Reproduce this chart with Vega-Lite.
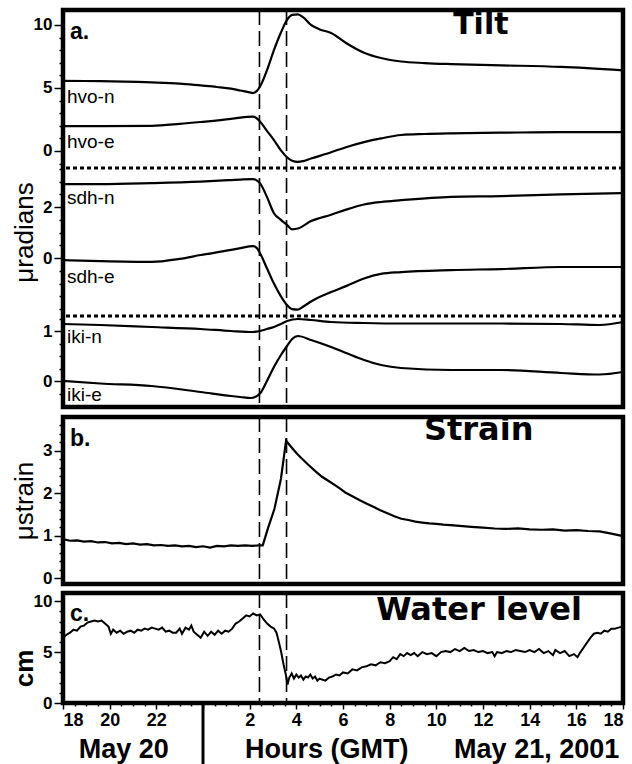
{
  "$schema": "https://vega.github.io/schema/vega-lite/v6.json",
  "padding": {"left": 8, "top": 6, "right": 6, "bottom": 0},
  "spacing": 0,
  "datasets": {
    "tilt": [
      {"s":"hvo-n","g":"hvo","h":18,"v":5.56},{"s":"hvo-n","g":"hvo","h":19.6,"v":5.55},{"s":"hvo-n","g":"hvo","h":21.8,"v":5.45},{"s":"hvo-n","g":"hvo","h":23.0,"v":5.35},{"s":"hvo-n","g":"hvo","h":23.9,"v":5.2},{"s":"hvo-n","g":"hvo","h":24.6,"v":5.08},{"s":"hvo-n","g":"hvo","h":25.2,"v":4.95},{"s":"hvo-n","g":"hvo","h":25.6,"v":4.8},{"s":"hvo-n","g":"hvo","h":26.0,"v":4.65},{"s":"hvo-n","g":"hvo","h":26.14,"v":4.6},{"s":"hvo-n","g":"hvo","h":26.3,"v":4.75},{"s":"hvo-n","g":"hvo","h":26.44,"v":5.1},{"s":"hvo-n","g":"hvo","h":26.74,"v":6.4},{"s":"hvo-n","g":"hvo","h":27.04,"v":8.0},{"s":"hvo-n","g":"hvo","h":27.34,"v":9.4},{"s":"hvo-n","g":"hvo","h":27.6,"v":10.4},{"s":"hvo-n","g":"hvo","h":27.82,"v":10.8},{"s":"hvo-n","g":"hvo","h":28.07,"v":10.85},{"s":"hvo-n","g":"hvo","h":28.3,"v":10.6},{"s":"hvo-n","g":"hvo","h":28.63,"v":10.0},{"s":"hvo-n","g":"hvo","h":29.0,"v":9.65},{"s":"hvo-n","g":"hvo","h":29.49,"v":9.37},{"s":"hvo-n","g":"hvo","h":30.13,"v":8.57},{"s":"hvo-n","g":"hvo","h":30.9,"v":7.8},{"s":"hvo-n","g":"hvo","h":31.63,"v":7.38},{"s":"hvo-n","g":"hvo","h":32.49,"v":7.1},{"s":"hvo-n","g":"hvo","h":33.5,"v":6.98},{"s":"hvo-n","g":"hvo","h":34.63,"v":6.9},{"s":"hvo-n","g":"hvo","h":36.77,"v":6.8},{"s":"hvo-n","g":"hvo","h":39.35,"v":6.67},{"s":"hvo-n","g":"hvo","h":42,"v":6.4},
      {"s":"hvo-e","g":"hvo","h":18,"v":1.98},{"s":"hvo-e","g":"hvo","h":19.6,"v":1.97},{"s":"hvo-e","g":"hvo","h":21.8,"v":2.0},{"s":"hvo-e","g":"hvo","h":23.0,"v":2.15},{"s":"hvo-e","g":"hvo","h":23.9,"v":2.3},{"s":"hvo-e","g":"hvo","h":25.2,"v":2.55},{"s":"hvo-e","g":"hvo","h":25.6,"v":2.65},{"s":"hvo-e","g":"hvo","h":26.14,"v":2.72},{"s":"hvo-e","g":"hvo","h":26.3,"v":2.6},{"s":"hvo-e","g":"hvo","h":26.44,"v":2.35},{"s":"hvo-e","g":"hvo","h":26.74,"v":1.6},{"s":"hvo-e","g":"hvo","h":27.04,"v":0.87},{"s":"hvo-e","g":"hvo","h":27.34,"v":0.05},{"s":"hvo-e","g":"hvo","h":27.6,"v":-0.5},{"s":"hvo-e","g":"hvo","h":27.82,"v":-0.78},{"s":"hvo-e","g":"hvo","h":28.07,"v":-0.87},{"s":"hvo-e","g":"hvo","h":28.3,"v":-0.8},{"s":"hvo-e","g":"hvo","h":28.63,"v":-0.6},{"s":"hvo-e","g":"hvo","h":29.49,"v":-0.1},{"s":"hvo-e","g":"hvo","h":30.13,"v":0.3},{"s":"hvo-e","g":"hvo","h":30.9,"v":0.7},{"s":"hvo-e","g":"hvo","h":31.63,"v":1.0},{"s":"hvo-e","g":"hvo","h":32.49,"v":1.27},{"s":"hvo-e","g":"hvo","h":33.5,"v":1.35},{"s":"hvo-e","g":"hvo","h":34.63,"v":1.4},{"s":"hvo-e","g":"hvo","h":36.77,"v":1.45},{"s":"hvo-e","g":"hvo","h":39.35,"v":1.5},{"s":"hvo-e","g":"hvo","h":42,"v":1.5},
      {"s":"sdh-n","g":"sdh","h":18,"v":2.9},{"s":"sdh-n","g":"sdh","h":19.6,"v":2.9},{"s":"sdh-n","g":"sdh","h":21.8,"v":2.94},{"s":"sdh-n","g":"sdh","h":23.9,"v":3.0},{"s":"sdh-n","g":"sdh","h":25.2,"v":3.06},{"s":"sdh-n","g":"sdh","h":25.6,"v":3.08},{"s":"sdh-n","g":"sdh","h":26.14,"v":3.1},{"s":"sdh-n","g":"sdh","h":26.3,"v":3.05},{"s":"sdh-n","g":"sdh","h":26.44,"v":2.94},{"s":"sdh-n","g":"sdh","h":26.74,"v":2.4},{"s":"sdh-n","g":"sdh","h":27.04,"v":1.76},{"s":"sdh-n","g":"sdh","h":27.34,"v":1.5},{"s":"sdh-n","g":"sdh","h":27.6,"v":1.3},{"s":"sdh-n","g":"sdh","h":27.82,"v":1.13},{"s":"sdh-n","g":"sdh","h":28.07,"v":1.16},{"s":"sdh-n","g":"sdh","h":28.63,"v":1.45},{"s":"sdh-n","g":"sdh","h":29.49,"v":1.7},{"s":"sdh-n","g":"sdh","h":30.13,"v":1.9},{"s":"sdh-n","g":"sdh","h":30.9,"v":2.1},{"s":"sdh-n","g":"sdh","h":31.63,"v":2.2},{"s":"sdh-n","g":"sdh","h":32.49,"v":2.27},{"s":"sdh-n","g":"sdh","h":34.63,"v":2.4},{"s":"sdh-n","g":"sdh","h":36.77,"v":2.43},{"s":"sdh-n","g":"sdh","h":39.35,"v":2.5},{"s":"sdh-n","g":"sdh","h":42,"v":2.55},
      {"s":"sdh-e","g":"sdh","h":18,"v":-0.08},{"s":"sdh-e","g":"sdh","h":19.6,"v":-0.12},{"s":"sdh-e","g":"sdh","h":21.8,"v":-0.15},{"s":"sdh-e","g":"sdh","h":23.0,"v":-0.03},{"s":"sdh-e","g":"sdh","h":23.9,"v":0.12},{"s":"sdh-e","g":"sdh","h":25.2,"v":0.32},{"s":"sdh-e","g":"sdh","h":25.6,"v":0.39},{"s":"sdh-e","g":"sdh","h":26.14,"v":0.47},{"s":"sdh-e","g":"sdh","h":26.3,"v":0.4},{"s":"sdh-e","g":"sdh","h":26.44,"v":0.2},{"s":"sdh-e","g":"sdh","h":26.74,"v":-0.4},{"s":"sdh-e","g":"sdh","h":27.04,"v":-1.0},{"s":"sdh-e","g":"sdh","h":27.34,"v":-1.5},{"s":"sdh-e","g":"sdh","h":27.6,"v":-1.84},{"s":"sdh-e","g":"sdh","h":27.82,"v":-2.0},{"s":"sdh-e","g":"sdh","h":28.07,"v":-2.02},{"s":"sdh-e","g":"sdh","h":28.3,"v":-1.9},{"s":"sdh-e","g":"sdh","h":28.63,"v":-1.7},{"s":"sdh-e","g":"sdh","h":29.49,"v":-1.33},{"s":"sdh-e","g":"sdh","h":30.13,"v":-1.1},{"s":"sdh-e","g":"sdh","h":30.9,"v":-0.8},{"s":"sdh-e","g":"sdh","h":31.63,"v":-0.62},{"s":"sdh-e","g":"sdh","h":32.49,"v":-0.55},{"s":"sdh-e","g":"sdh","h":34.63,"v":-0.47},{"s":"sdh-e","g":"sdh","h":36.77,"v":-0.43},{"s":"sdh-e","g":"sdh","h":39.35,"v":-0.35},{"s":"sdh-e","g":"sdh","h":42,"v":-0.35},
      {"s":"iki-n","g":"iki","h":18,"v":1.14},{"s":"iki-n","g":"iki","h":19.6,"v":1.12},{"s":"iki-n","g":"iki","h":21.8,"v":1.08},{"s":"iki-n","g":"iki","h":23.9,"v":1.04},{"s":"iki-n","g":"iki","h":25.2,"v":1.0},{"s":"iki-n","g":"iki","h":26.14,"v":0.98},{"s":"iki-n","g":"iki","h":26.44,"v":1.0},{"s":"iki-n","g":"iki","h":26.74,"v":1.04},{"s":"iki-n","g":"iki","h":27.04,"v":1.08},{"s":"iki-n","g":"iki","h":27.34,"v":1.14},{"s":"iki-n","g":"iki","h":27.6,"v":1.2},{"s":"iki-n","g":"iki","h":28.07,"v":1.24},{"s":"iki-n","g":"iki","h":28.63,"v":1.22},{"s":"iki-n","g":"iki","h":29.49,"v":1.18},{"s":"iki-n","g":"iki","h":30.9,"v":1.16},{"s":"iki-n","g":"iki","h":32.49,"v":1.15},{"s":"iki-n","g":"iki","h":34.63,"v":1.15},{"s":"iki-n","g":"iki","h":36.77,"v":1.15},{"s":"iki-n","g":"iki","h":39.35,"v":1.14},{"s":"iki-n","g":"iki","h":41.0,"v":1.12},{"s":"iki-n","g":"iki","h":42,"v":1.18},
      {"s":"iki-e","g":"iki","h":18,"v":0.0},{"s":"iki-e","g":"iki","h":19.6,"v":-0.05},{"s":"iki-e","g":"iki","h":21.8,"v":-0.1},{"s":"iki-e","g":"iki","h":23.9,"v":-0.22},{"s":"iki-e","g":"iki","h":25.2,"v":-0.3},{"s":"iki-e","g":"iki","h":25.6,"v":-0.32},{"s":"iki-e","g":"iki","h":26.06,"v":-0.34},{"s":"iki-e","g":"iki","h":26.44,"v":-0.25},{"s":"iki-e","g":"iki","h":26.74,"v":0.0},{"s":"iki-e","g":"iki","h":27.04,"v":0.28},{"s":"iki-e","g":"iki","h":27.34,"v":0.52},{"s":"iki-e","g":"iki","h":27.6,"v":0.7},{"s":"iki-e","g":"iki","h":27.82,"v":0.84},{"s":"iki-e","g":"iki","h":28.07,"v":0.9},{"s":"iki-e","g":"iki","h":28.63,"v":0.82},{"s":"iki-e","g":"iki","h":29.49,"v":0.68},{"s":"iki-e","g":"iki","h":30.13,"v":0.56},{"s":"iki-e","g":"iki","h":30.9,"v":0.42},{"s":"iki-e","g":"iki","h":31.63,"v":0.32},{"s":"iki-e","g":"iki","h":32.49,"v":0.26},{"s":"iki-e","g":"iki","h":34.63,"v":0.22},{"s":"iki-e","g":"iki","h":36.77,"v":0.22},{"s":"iki-e","g":"iki","h":39.35,"v":0.16},{"s":"iki-e","g":"iki","h":41.0,"v":0.13},{"s":"iki-e","g":"iki","h":42,"v":0.18}
    ],
    "tracelabels": [
      {"t":"hvo-n","g":"hvo","h":18.17,"v":4.29},
      {"t":"hvo-e","g":"hvo","h":18.17,"v":0.71},
      {"t":"sdh-n","g":"sdh","h":18.17,"v":2.35},
      {"t":"sdh-e","g":"sdh","h":18.17,"v":-0.75},
      {"t":"iki-n","g":"iki","h":18.17,"v":0.88},
      {"t":"iki-e","g":"iki","h":18.17,"v":-0.28}
    ],
    "strain": [
      {"h":18.0,"v":0.92},{"h":18.3,"v":0.88},{"h":18.6,"v":0.89},{"h":18.9,"v":0.86},{"h":19.2,"v":0.87},{"h":19.5,"v":0.84},{"h":19.8,"v":0.85},{"h":20.1,"v":0.82},{"h":20.4,"v":0.83},{"h":20.7,"v":0.8},{"h":21.0,"v":0.82},{"h":21.3,"v":0.79},{"h":21.6,"v":0.8},{"h":21.9,"v":0.77},{"h":22.2,"v":0.78},{"h":22.5,"v":0.76},{"h":22.8,"v":0.77},{"h":23.1,"v":0.75},{"h":23.4,"v":0.76},{"h":23.7,"v":0.73},{"h":24.0,"v":0.75},{"h":24.3,"v":0.72},{"h":24.6,"v":0.76},{"h":24.9,"v":0.75},{"h":25.2,"v":0.77},{"h":25.5,"v":0.76},{"h":25.8,"v":0.77},{"h":26.1,"v":0.76},{"h":26.4,"v":0.77},{"h":26.56,"v":0.77},{"h":26.8,"v":1.2},{"h":27.06,"v":1.63},{"h":27.34,"v":2.34},{"h":27.56,"v":3.24},{"h":27.8,"v":3.08},{"h":28.0,"v":2.95},{"h":28.2,"v":2.84},{"h":28.5,"v":2.68},{"h":28.8,"v":2.53},{"h":29.1,"v":2.39},{"h":29.5,"v":2.25},{"h":29.8,"v":2.14},{"h":30.1,"v":2.02},{"h":30.4,"v":1.93},{"h":30.7,"v":1.84},{"h":31.0,"v":1.76},{"h":31.3,"v":1.68},{"h":31.6,"v":1.6},{"h":31.9,"v":1.53},{"h":32.2,"v":1.46},{"h":32.5,"v":1.4},{"h":32.8,"v":1.37},{"h":33.1,"v":1.33},{"h":33.4,"v":1.31},{"h":33.7,"v":1.29},{"h":34.0,"v":1.28},{"h":34.3,"v":1.26},{"h":34.6,"v":1.25},{"h":35.0,"v":1.23},{"h":35.5,"v":1.21},{"h":36.0,"v":1.19},{"h":36.5,"v":1.17},{"h":37.0,"v":1.16},{"h":37.5,"v":1.17},{"h":38.0,"v":1.15},{"h":38.5,"v":1.14},{"h":39.0,"v":1.15},{"h":39.5,"v":1.12},{"h":40.0,"v":1.13},{"h":40.5,"v":1.11},{"h":41.0,"v":1.1},{"h":41.5,"v":1.05},{"h":42.0,"v":0.99}
    ],
    "water": [
      {"h":18.0,"v":6.4},{"h":18.15,"v":6.7},{"h":18.3,"v":6.9},{"h":18.45,"v":7.2},{"h":18.6,"v":7.1},{"h":18.75,"v":7.5},{"h":18.9,"v":7.6},{"h":19.05,"v":7.9},{"h":19.2,"v":8.0},{"h":19.35,"v":8.1},{"h":19.5,"v":8.0},{"h":19.65,"v":8.1},{"h":19.8,"v":7.8},{"h":19.95,"v":7.5},{"h":20.05,"v":6.8},{"h":20.15,"v":7.2},{"h":20.3,"v":6.9},{"h":20.45,"v":7.1},{"h":20.6,"v":6.8},{"h":20.75,"v":7.0},{"h":20.9,"v":7.1},{"h":21.05,"v":6.9},{"h":21.2,"v":7.2},{"h":21.35,"v":7.1},{"h":21.5,"v":7.3},{"h":21.65,"v":7.2},{"h":21.8,"v":7.4},{"h":21.95,"v":7.3},{"h":22.1,"v":7.2},{"h":22.25,"v":7.4},{"h":22.4,"v":7.0},{"h":22.55,"v":7.1},{"h":22.7,"v":6.9},{"h":22.85,"v":6.9},{"h":23.0,"v":7.3},{"h":23.1,"v":6.8},{"h":23.25,"v":7.4},{"h":23.4,"v":7.2},{"h":23.5,"v":7.6},{"h":23.6,"v":7.0},{"h":23.75,"v":6.7},{"h":23.9,"v":6.4},{"h":24.05,"v":7.0},{"h":24.2,"v":6.6},{"h":24.35,"v":7.0},{"h":24.5,"v":6.7},{"h":24.65,"v":7.1},{"h":24.8,"v":6.8},{"h":24.95,"v":7.1},{"h":25.1,"v":7.0},{"h":25.25,"v":7.3},{"h":25.4,"v":7.8},{"h":25.55,"v":8.0},{"h":25.7,"v":8.3},{"h":25.85,"v":8.6},{"h":26.0,"v":8.5},{"h":26.15,"v":8.8},{"h":26.3,"v":8.6},{"h":26.45,"v":8.7},{"h":26.6,"v":8.2},{"h":26.75,"v":7.8},{"h":26.9,"v":7.5},{"h":27.05,"v":7.3},{"h":27.15,"v":6.9},{"h":27.25,"v":6.0},{"h":27.35,"v":5.0},{"h":27.45,"v":3.8},{"h":27.55,"v":2.8},{"h":27.62,"v":1.8},{"h":27.7,"v":2.5},{"h":27.8,"v":2.9},{"h":27.9,"v":2.4},{"h":28.0,"v":2.8},{"h":28.1,"v":2.5},{"h":28.2,"v":2.7},{"h":28.3,"v":2.3},{"h":28.4,"v":2.6},{"h":28.5,"v":2.5},{"h":28.6,"v":2.8},{"h":28.7,"v":2.4},{"h":28.8,"v":2.6},{"h":28.9,"v":2.2},{"h":29.0,"v":2.4},{"h":29.1,"v":2.3},{"h":29.25,"v":2.2},{"h":29.4,"v":2.5},{"h":29.55,"v":2.6},{"h":29.7,"v":2.8},{"h":29.85,"v":2.7},{"h":30.0,"v":3.0},{"h":30.2,"v":2.9},{"h":30.4,"v":3.3},{"h":30.6,"v":3.2},{"h":30.8,"v":3.5},{"h":31.0,"v":3.6},{"h":31.2,"v":3.8},{"h":31.4,"v":3.7},{"h":31.6,"v":4.0},{"h":31.8,"v":3.9},{"h":32.0,"v":4.1},{"h":32.15,"v":4.5},{"h":32.3,"v":4.3},{"h":32.45,"v":4.8},{"h":32.6,"v":4.6},{"h":32.75,"v":4.9},{"h":32.9,"v":4.7},{"h":33.05,"v":4.9},{"h":33.2,"v":4.6},{"h":33.4,"v":5.0},{"h":33.6,"v":4.8},{"h":33.8,"v":4.9},{"h":34.0,"v":4.6},{"h":34.2,"v":5.0},{"h":34.4,"v":5.1},{"h":34.6,"v":5.0},{"h":34.8,"v":5.3},{"h":35.0,"v":5.1},{"h":35.2,"v":5.4},{"h":35.4,"v":5.1},{"h":35.6,"v":5.2},{"h":35.8,"v":5.0},{"h":36.0,"v":5.1},{"h":36.2,"v":4.9},{"h":36.4,"v":5.0},{"h":36.5,"v":4.6},{"h":36.6,"v":5.0},{"h":36.8,"v":4.9},{"h":37.0,"v":5.1},{"h":37.2,"v":5.0},{"h":37.4,"v":5.2},{"h":37.6,"v":5.1},{"h":37.8,"v":5.0},{"h":38.0,"v":5.2},{"h":38.2,"v":5.0},{"h":38.4,"v":5.3},{"h":38.6,"v":4.9},{"h":38.8,"v":5.1},{"h":39.0,"v":4.7},{"h":39.1,"v":5.2},{"h":39.3,"v":4.9},{"h":39.5,"v":5.1},{"h":39.7,"v":4.6},{"h":39.9,"v":4.8},{"h":40.05,"v":4.5},{"h":40.15,"v":4.9},{"h":40.3,"v":5.4},{"h":40.45,"v":5.9},{"h":40.6,"v":6.4},{"h":40.75,"v":6.8},{"h":40.9,"v":6.9},{"h":41.05,"v":6.8},{"h":41.2,"v":7.1},{"h":41.35,"v":7.0},{"h":41.5,"v":7.3},{"h":41.65,"v":7.3},{"h":41.8,"v":7.4},{"h":42.0,"v":7.5}
    ],
    "events": [{"h": 26.42}, {"h": 27.58}]
  },
  "vconcat": [
    {
      "width": 560,
      "height": 397,
      "layer": [
        {
          "encoding": {
            "y": {"field": "v", "type": "quantitative", "scale": {"domain": [-20.32, 11.19], "nice": false, "zero": false},
              "axis": {"orient": "left", "title": null, "values": [-1,0,1,2,3,4,5,6,7,8,9,10],
                "labelExpr": "datum.value % 5 == 0 ? datum.label : ''",
                "labelFontSize": {"condition": {"test": "datum.value % 5 == 0", "value": 17}, "value": 0},
                "tickSize": {"condition": {"test": "datum.value % 5 == 0", "value": 9}, "value": 4}}}
          },
          "layer": [
            {"data": {"name": "tilt"}, "transform": [{"filter": "datum.g == 'hvo'"}],
             "mark": {"type": "line", "color": "black", "strokeWidth": 2.2, "interpolate": "monotone"},
             "encoding": {"x": {"field": "h", "type": "quantitative", "scale": {"domain": [18, 42], "nice": false, "zero": false}, "axis": null}, "detail": {"field": "s"}}},
            {"data": {"name": "tracelabels"}, "transform": [{"filter": "datum.g == 'hvo'"}],
             "mark": {"type": "text", "align": "left", "baseline": "middle", "fontSize": 19, "font": "Liberation Sans"},
             "encoding": {"x": {"field": "h", "type": "quantitative", "axis": null}, "text": {"field": "t"}}},
            {"data": {"values": [{"t": "a.", "h": 18.3, "v": 9.44}]},
             "mark": {"type": "text", "align": "left", "baseline": "middle", "fontSize": 23, "fontWeight": "bold", "font": "Liberation Sans"},
             "encoding": {"x": {"field": "h", "type": "quantitative", "axis": null}, "text": {"field": "t"}}},
            {"data": {"values": [{"t": "Tilt", "h": 34.72, "v": 10.0}]},
             "mark": {"type": "text", "align": "left", "baseline": "middle", "fontSize": 30, "fontWeight": "bold", "font": "DejaVu Sans"},
             "encoding": {"x": {"field": "h", "type": "quantitative", "axis": null}, "text": {"field": "t"}}},
            {"data": {"values": [{"v": -1.35}]},
             "mark": {"type": "rule", "color": "black", "strokeWidth": 3, "strokeDash": [4, 3]},
             "encoding": {}}
          ]
        },
        {
          "encoding": {
            "y": {"field": "v", "type": "quantitative", "scale": {"domain": [-5.84, 9.73], "nice": false, "zero": false},
              "axis": {"orient": "left", "title": "μradians", "titleX": -26, "titleY": 222, "values": [-2,-1.5,-1,-0.5,0,0.5,1,1.5,2,2.5,3,3.5],
                "labelExpr": "(datum.value == 0 || datum.value == 2) ? datum.label : ''",
                "labelFontSize": {"condition": {"test": "datum.value == 0 || datum.value == 2", "value": 17}, "value": 0},
                "tickSize": {"condition": {"test": "datum.value == 0 || datum.value == 2", "value": 9}, "value": 4}}}
          },
          "layer": [
            {"data": {"name": "tilt"}, "transform": [{"filter": "datum.g == 'sdh'"}],
             "mark": {"type": "line", "color": "black", "strokeWidth": 2.2, "interpolate": "monotone"},
             "encoding": {"x": {"field": "h", "type": "quantitative", "axis": null}, "detail": {"field": "s"}}},
            {"data": {"name": "tracelabels"}, "transform": [{"filter": "datum.g == 'sdh'"}],
             "mark": {"type": "text", "align": "left", "baseline": "middle", "fontSize": 19, "font": "Liberation Sans"},
             "encoding": {"x": {"field": "h", "type": "quantitative", "axis": null}, "text": {"field": "t"}}}
          ]
        },
        {
          "encoding": {
            "y": {"field": "v", "type": "quantitative", "scale": {"domain": [-0.52, 7.42], "nice": false, "zero": false},
              "axis": {"orient": "left", "title": null, "values": [-0.25,0,0.25,0.5,0.75,1,1.25],
                "labelExpr": "(datum.value == 0 || datum.value == 1) ? datum.label : ''",
                "labelFontSize": {"condition": {"test": "datum.value == 0 || datum.value == 1", "value": 17}, "value": 0},
                "tickSize": {"condition": {"test": "datum.value == 0 || datum.value == 1", "value": 9}, "value": 4}}}
          },
          "layer": [
            {"data": {"name": "tilt"}, "transform": [{"filter": "datum.g == 'iki'"}],
             "mark": {"type": "line", "color": "black", "strokeWidth": 2.2, "interpolate": "monotone"},
             "encoding": {"x": {"field": "h", "type": "quantitative", "axis": null}, "detail": {"field": "s"}}},
            {"data": {"name": "tracelabels"}, "transform": [{"filter": "datum.g == 'iki'"}],
             "mark": {"type": "text", "align": "left", "baseline": "middle", "fontSize": 19, "font": "Liberation Sans"},
             "encoding": {"x": {"field": "h", "type": "quantitative", "axis": null}, "text": {"field": "t"}}},
            {"data": {"values": [{"v": 1.3}]},
             "mark": {"type": "rule", "color": "black", "strokeWidth": 3, "strokeDash": [4, 3]},
             "encoding": {}}
          ]
        },
        {
          "data": {"name": "events"},
          "mark": {"type": "rule", "color": "black", "strokeWidth": 1.6, "strokeDash": [15, 6]},
          "encoding": {"x": {"field": "h", "type": "quantitative", "axis": null}}
        }
      ],
      "resolve": {"scale": {"y": "independent"}, "axis": {"y": "independent"}}
    },
    {
      "width": 560,
      "height": 167,
      "encoding": {"x": {"field": "h", "type": "quantitative", "scale": {"domain": [18, 42], "nice": false, "zero": false}, "axis": null}},
      "layer": [
        {
          "encoding": {
            "y": {"field": "v", "type": "quantitative", "scale": {"domain": [-0.14, 3.8], "nice": false, "zero": false},
              "axis": {"orient": "left", "title": "μstrain", "titleX": -26, "values": [0,0.2,0.4,0.6,0.8,1,1.2,1.4,1.6,1.8,2,2.2,2.4,2.6,2.8,3,3.2,3.4,3.6],
                "labelExpr": "(datum.value == 0 || datum.value == 1 || datum.value == 2 || datum.value == 3) ? ('' + datum.value) : ''",
                "labelFontSize": {"condition": {"test": "datum.value == 0 || datum.value == 1 || datum.value == 2 || datum.value == 3", "value": 17}, "value": 0},
                "tickSize": {"condition": {"test": "datum.value == 0 || datum.value == 1 || datum.value == 2 || datum.value == 3", "value": 9}, "value": 4}}}
          },
          "layer": [
            {"data": {"name": "strain"},
             "mark": {"type": "line", "color": "black", "strokeWidth": 2.2}},
            {"data": {"values": [{"t": "b.", "h": 18.3, "v": 3.29}]},
             "mark": {"type": "text", "align": "left", "baseline": "middle", "fontSize": 23, "fontWeight": "bold", "font": "Liberation Sans"},
             "encoding": {"text": {"field": "t"}}},
            {"data": {"values": [{"t": "Strain", "h": 33.47, "v": 3.5}]},
             "mark": {"type": "text", "align": "left", "baseline": "middle", "fontSize": 32, "fontWeight": "bold", "font": "DejaVu Sans"},
             "encoding": {"text": {"field": "t"}}}
          ]
        },
        {"data": {"name": "events"},
         "mark": {"type": "rule", "color": "black", "strokeWidth": 1.6, "strokeDash": [15, 6]}}
      ]
    },
    {
      "width": 560,
      "height": 110,
      "encoding": {
        "x": {"field": "h", "type": "quantitative", "scale": {"domain": [18, 42], "nice": false, "zero": false},
          "axis": {"orient": "bottom", "title": null, "values": [18,18.5,19,19.5,20,20.5,21,21.5,22,22.5,23,23.5,24,24.5,25,25.5,26,26.5,27,27.5,28,28.5,29,29.5,30,30.5,31,31.5,32,32.5,33,33.5,34,34.5,35,35.5,36,36.5,37,37.5,38,38.5,39,39.5,40,40.5,41,41.5,42],
            "labelExpr": "(datum.value % 2 == 0 && datum.value != 24) ? '' + (datum.value % 24) : ''",
            "labelFontSize": 18,
            "tickSize": {"condition": {"test": "datum.value % 2 == 0", "value": 6}, "value": 3}}}
      },
      "layer": [
        {
          "encoding": {
            "y": {"field": "v", "type": "quantitative", "scale": {"domain": [0, 10.8], "nice": false, "zero": false},
              "axis": {"orient": "left", "title": "cm", "titleFontWeight": "bold", "titleX": -26, "titleY": 75, "values": [0,1,2,3,4,5,6,7,8,9,10],
                "labelExpr": "datum.value % 5 == 0 ? datum.label : ''",
                "labelFontSize": {"condition": {"test": "datum.value % 5 == 0", "value": 17}, "value": 0},
                "tickSize": {"condition": {"test": "datum.value % 5 == 0", "value": 9}, "value": 4}}}
          },
          "layer": [
            {"data": {"name": "water"},
             "mark": {"type": "line", "color": "black", "strokeWidth": 2}},
            {"data": {"values": [{"t": "c.", "h": 18.3, "v": 8.7}]},
             "mark": {"type": "text", "align": "left", "baseline": "middle", "fontSize": 23, "fontWeight": "bold", "font": "Liberation Sans"},
             "encoding": {"text": {"field": "t"}}},
            {"data": {"values": [{"t": "Water level", "h": 31.42, "v": 9.1}]},
             "mark": {"type": "text", "align": "left", "baseline": "middle", "fontSize": 32, "fontWeight": "bold", "font": "DejaVu Sans"},
             "encoding": {"text": {"field": "t"}}},
            {"data": {"values": [{"h": 24, "v": 0, "v2": -6.3}]},
             "mark": {"type": "rule", "color": "black", "strokeWidth": 3, "clip": false},
             "encoding": {"y2": {"field": "v2"}}},
            {"data": {"values": [{"t": "May 20", "h": 20.6, "v": -4.6}, {"t": "Hours (GMT)", "h": 29.3, "v": -4.6}, {"t": "May 21, 2001", "h": 38.3, "v": -4.6}]},
             "mark": {"type": "text", "align": "center", "baseline": "middle", "fontSize": 27, "fontWeight": "bold", "font": "Liberation Sans", "clip": false},
             "encoding": {"text": {"field": "t"}}}
          ]
        },
        {"data": {"name": "events"},
         "mark": {"type": "rule", "color": "black", "strokeWidth": 1.6, "strokeDash": [15, 6]}}
      ]
    }
  ],
  "config": {
    "view": {"stroke": "black", "strokeWidth": 4.5},
    "font": "Liberation Sans",
    "axis": {"domain": false, "grid": false, "labelOverlap": false, "tickColor": "black", "tickWidth": 1.5, "labelColor": "black", "labelFont": "Liberation Sans", "labelFontWeight": "bold", "labelFontSize": 17, "labelPadding": 2, "titleColor": "black", "titleFont": "Liberation Sans", "titleFontWeight": "normal", "titleFontSize": 26}
  }
}
